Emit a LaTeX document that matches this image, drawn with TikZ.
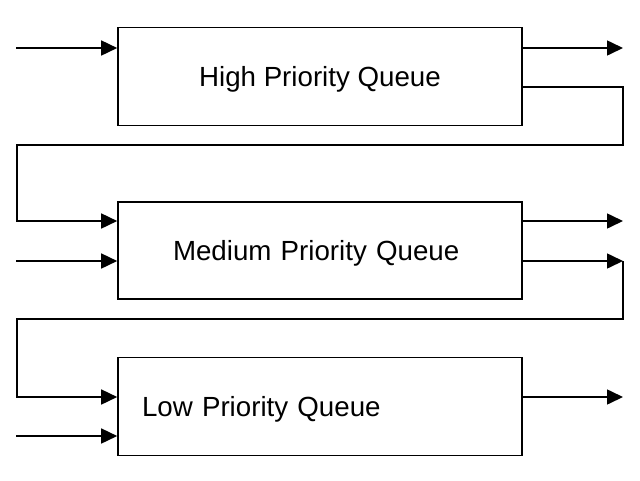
\documentclass[tikz,border=0pt]{standalone}
\usepackage{fontspec}
\setmainfont{Liberation Sans}
\usetikzlibrary{arrows.meta,calc}

\begin{document}
\begin{tikzpicture}[x=1pt,y=-1pt,
       queue/.style={draw=black,line width=1.6pt,minimum width=404pt,minimum height=98pt,
          text depth=0pt,font=\fontsize{27.7}{30}\selectfont},
       flow/.style={line width=1.6pt,-{Triangle[length=16pt,width=15pt]}}]
        \useasboundingbox (0,0) rectangle (640,480);
        % draw queues
        \node[queue] (high) at (320,76.5) {High Priority Queue};
        \node[queue,minimum height=97pt,text width=294pt,inner xsep=55pt,align=left] (medium) at (320,250.5) {Medium Priority Queue};
        \node[queue,text width=356pt,inner xsep=24pt,align=left] (low) at (320,406.5) {Low Priority Queue};

        % free ends
        \coordinate (hin) at (16,48);
        \coordinate (hout) at (623,48);
        \coordinate (hm1) at (623,145);
        \coordinate (hm2) at (17,145);
        \coordinate (min) at (16,261);
        \coordinate (mout) at (623,221);
        \coordinate (mtip) at (623,261);
        \coordinate (ml1) at (623,319);
        \coordinate (ml2) at (17,319);
        \coordinate (lin) at (16,436);
        \coordinate (lout) at (623,397);

        % draw inputs and outputs
        \draw[flow] (hin) -- (high.west |- hin);
        \draw[flow] (high.east |- hout) -- (hout);
        \draw[flow] (min) -- (medium.west |- min);
        \draw[flow] (medium.east |- mout) -- (mout);
        \draw[flow] (medium.east |- mtip) -- (mtip);
        \draw[flow] (lin) -- (low.west |- lin);
        \draw[flow] (low.east |- lout) -- (lout);

        % draw feedback from high to medium
        \draw[flow] (high.east |- 0,87) -| (hm1) -- (hm2) |- (medium.west |- 0,221);
        % draw feedback from medium to low
        \draw[flow] (mtip) -- (ml1) -- (ml2) |- (low.west |- lout);
    \end{tikzpicture}
\end{document}
